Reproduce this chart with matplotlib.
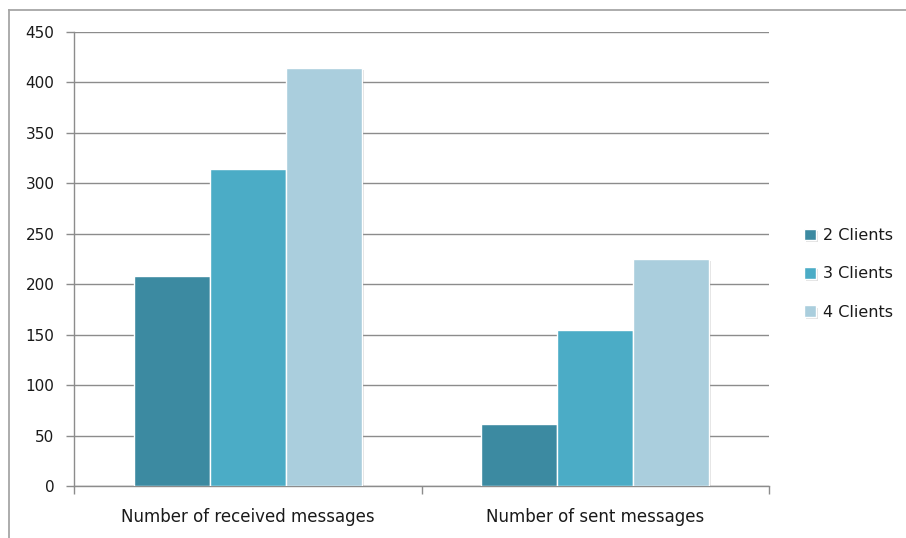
import matplotlib
matplotlib.use("Agg")
import matplotlib.pyplot as plt
import matplotlib.patheffects as pe
from matplotlib.lines import Line2D
import numpy as np

categories = ["Number of received messages", "Number of sent messages"]
series_names = ["2 Clients", "3 Clients", "4 Clients"]
series_values = {
    "2 Clients": [208, 61],
    "3 Clients": [314, 155],
    "4 Clients": [414, 225],
}
colors = ["#3C8AA1", "#4BACC6", "#AACEDD"]
y_ticks = [0, 50, 100, 150, 200, 250, 300, 350, 400, 450]

W, H = 906, 538
fig = plt.figure(figsize=(W / 100, H / 100), dpi=100)
fig.patch.set_facecolor("white")

# outer chart frame (top and left edges visible)
frame_col = "#a6a6a6"
fig.add_artist(Line2D([9 / W, 1.0], [1 - 10 / H, 1 - 10 / H], color=frame_col, lw=1.3,
                      transform=fig.transFigure))
fig.add_artist(Line2D([9 / W, 9 / W], [1 - 10 / H, 0.0], color=frame_col, lw=1.3,
                      transform=fig.transFigure))

ax = fig.add_axes([74 / W, 1 - 486 / H, (769 - 74) / W, (486 - 32) / H])
ax.set_facecolor("white")

x = np.arange(len(categories))
width = 0.219
offsets = [-width, 0.0, width]
shadow = [pe.SimplePatchShadow(offset=(1.5, -1.5), shadow_rgbFace="#000000", alpha=0.12), pe.Normal()]
for name, off, col in zip(series_names, offsets, colors):
    bars = ax.bar(x + off, series_values[name], width=width, color=col,
                  edgecolor="white", linewidth=1.0, label=name, zorder=3)
    for b in bars:
        b.set_path_effects(shadow)

ax.set_xlim(-0.5, 1.5)
ax.set_ylim(0, 450)
ax.set_yticks(y_ticks)
ax.set_xticks(x)
ax.set_xticklabels(categories)
ax.set_xticks([-0.5, 0.5, 1.5], minor=True)

grid_col = "#8c8c8c"
ax.yaxis.grid(True, color=grid_col, lw=1.0, zorder=0)
ax.set_axisbelow(True)
for s in ["top", "right"]:
    ax.spines[s].set_visible(False)
for s in ["left", "bottom"]:
    ax.spines[s].set_color(grid_col)
    ax.spines[s].set_linewidth(1.0)

txt_col = "#1a1a1a"
ax.tick_params(axis="y", which="major", direction="out", length=6, width=1.0,
               color=grid_col, labelsize=11, labelcolor=txt_col, pad=8)
ax.tick_params(axis="x", which="major", length=0, labelsize=12, labelcolor=txt_col, pad=16)
ax.tick_params(axis="x", which="minor", direction="out", length=6, width=1.0, color=grid_col)

leg = ax.legend(loc="center left", bbox_to_anchor=(798 / W, 1 - 274 / H),
                bbox_transform=fig.transFigure, frameon=False, fontsize=11.5,
                handlelength=0.7, handleheight=0.7, handletextpad=0.45,
                labelspacing=1.45, borderaxespad=0)
for t in leg.get_texts():
    t.set_color(txt_col)

fig.savefig("out.png", dpi=100, facecolor="white")
